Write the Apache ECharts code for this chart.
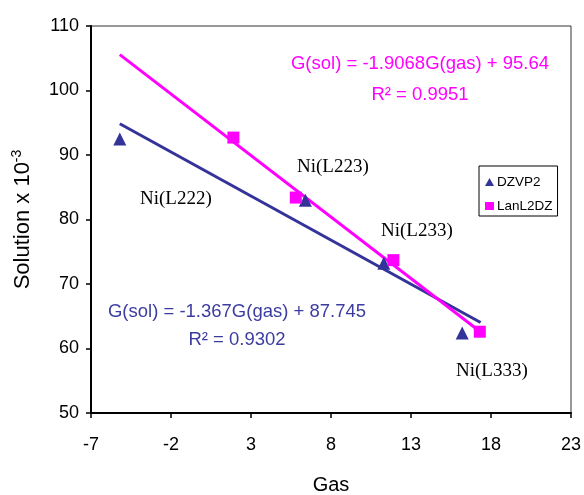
<!DOCTYPE html>
<html>
<head>
<meta charset="utf-8">
<script src="https://cdn.jsdelivr.net/npm/echarts@6/dist/echarts.min.js"></script>
<style>
  html, body { margin: 0; padding: 0; background: #fff; }
  #chart { width: 584px; height: 495px; }
</style>
</head>
<body>
<div id="chart"></div>
<script>
// DZVP2 (triangles)
const dzvp2Gas = [-5.2, 6.4, 11.3, 16.2]
const dzvp2Sol = [92.5, 83.0, 73.2, 62.4]
// LanL2DZ (squares)
const lanGas = [1.9, 5.8, 11.9, 17.3]
const lanSol = [92.7, 83.4, 73.7, 62.6]

// trendlines as shown on the chart
const dzvp2Fit = { slope: -1.367, intercept: 87.745 }
const lanFit = { slope: -1.9068, intercept: 95.64 }
const fitRange = [-5.2, 17.35]

const xTicks = [-7, -2, 3, 8, 13, 18, 23]
const pointLabels = [
  { text: 'Ni(L222)', x: 140, y: 190 },
  { text: 'Ni(L223)', x: 297, y: 158 },
  { text: 'Ni(L233)', x: 381, y: 222 },
  { text: 'Ni(L333)', x: 456, y: 362 }
]

const BLUE = '#333399'
const PINK = '#ff00ff'

const zip = (xs, ys) => xs.map((x, i) => [x, ys[i]])
const fitLine = f => fitRange.map(x => [x, f.slope * x + f.intercept])

const chart = echarts.init(document.getElementById('chart'))

const option = {
  backgroundColor: '#fff',
  animation: false,
  grid: {
    left: 91, right: 13, top: 26, bottom: 82,
    outerBoundsMode: 'none',
    show: true, borderColor: '#333', borderWidth: 1
  },
  xAxis: {
    type: 'value',
    min: -7, max: 23,
    name: 'Gas',
    nameLocation: 'middle',
    nameGap: 62,
    nameTextStyle: { fontFamily: 'Liberation Sans', fontSize: 20, color: '#000' },
    axisLine: { onZero: false, lineStyle: { color: '#000', width: 2 } },
    axisTick: { show: true, length: 5, customValues: xTicks, lineStyle: { color: '#000', width: 1.5 } },
    axisLabel: { customValues: xTicks, margin: 23, fontFamily: 'Liberation Sans', fontSize: 18, color: '#000' },
    splitLine: { show: false }
  },
  yAxis: {
    type: 'value',
    min: 50, max: 110, interval: 10,
    name: '{a|Solution x 10}{b|-3}',
    nameLocation: 'middle',
    nameGap: 56,
    nameTextStyle: {
      rich: {
        a: { fontFamily: 'Liberation Sans', fontSize: 22, color: '#000' },
        b: { fontFamily: 'Liberation Sans', fontSize: 14, color: '#000', padding: [0, 0, 11, 0] }
      }
    },
    axisLine: { show: true, onZero: false, lineStyle: { color: '#000', width: 2 } },
    axisTick: { show: true, length: 5, lineStyle: { color: '#000', width: 1.5 } },
    axisLabel: { margin: 12, fontFamily: 'Liberation Sans', fontSize: 18, color: '#000' },
    splitLine: { show: false }
  },
  legend: {
    left: 479, top: 166,
    orient: 'vertical',
    itemGap: 10,
    itemWidth: 9, itemHeight: 8,
    padding: [9, 5, 3, 6],
    borderColor: '#000', borderWidth: 1,
    backgroundColor: '#fff',
    textStyle: { fontFamily: 'Liberation Sans', fontSize: 13.5, color: '#000', padding: [0, 0, 0, -2] },
    data: [
      { name: 'DZVP2', icon: 'triangle' },
      { name: 'LanL2DZ', icon: 'rect' }
    ]
  },
  series: [
    {
      name: 'DZVP2 trend', type: 'line', data: fitLine(dzvp2Fit),
      symbol: 'none', lineStyle: { color: BLUE, width: 3 }, z: 2
    },
    {
      name: 'LanL2DZ trend', type: 'line', data: fitLine(lanFit),
      symbol: 'none', lineStyle: { color: PINK, width: 3 }, z: 3
    },
    {
      name: 'DZVP2', type: 'scatter', data: zip(dzvp2Gas, dzvp2Sol),
      symbol: 'triangle', symbolSize: 13, itemStyle: { color: BLUE, opacity: 1 }, z: 4
    },
    {
      name: 'LanL2DZ', type: 'scatter', data: zip(lanGas, lanSol),
      symbol: 'rect', symbolSize: 12, itemStyle: { color: PINK, opacity: 1 }, z: 5
    }
  ],
  graphic: [
    {
      type: 'text', x: 420, y: 48,
      style: {
        text: 'G(sol) = -1.9068G(gas) + 95.64\nR\u00b2 = 0.9951',
        align: 'center',
        fontFamily: 'Liberation Sans', fontSize: 18.5, lineHeight: 31, fill: PINK
      }
    },
    {
      type: 'text', x: 237, y: 298,
      style: {
        text: 'G(sol) = -1.367G(gas) + 87.745\nR\u00b2 = 0.9302',
        align: 'center',
        fontFamily: 'Liberation Sans', fontSize: 18.5, lineHeight: 28, fill: '#3c3ca0'
      }
    }
  ].concat(pointLabels.map(p => ({
    type: 'text', x: p.x, y: p.y,
    style: { text: p.text, fontFamily: 'Liberation Serif', fontSize: 19, fill: '#000' }
  })))
}

chart.setOption(option)
</script>
</body>
</html>
